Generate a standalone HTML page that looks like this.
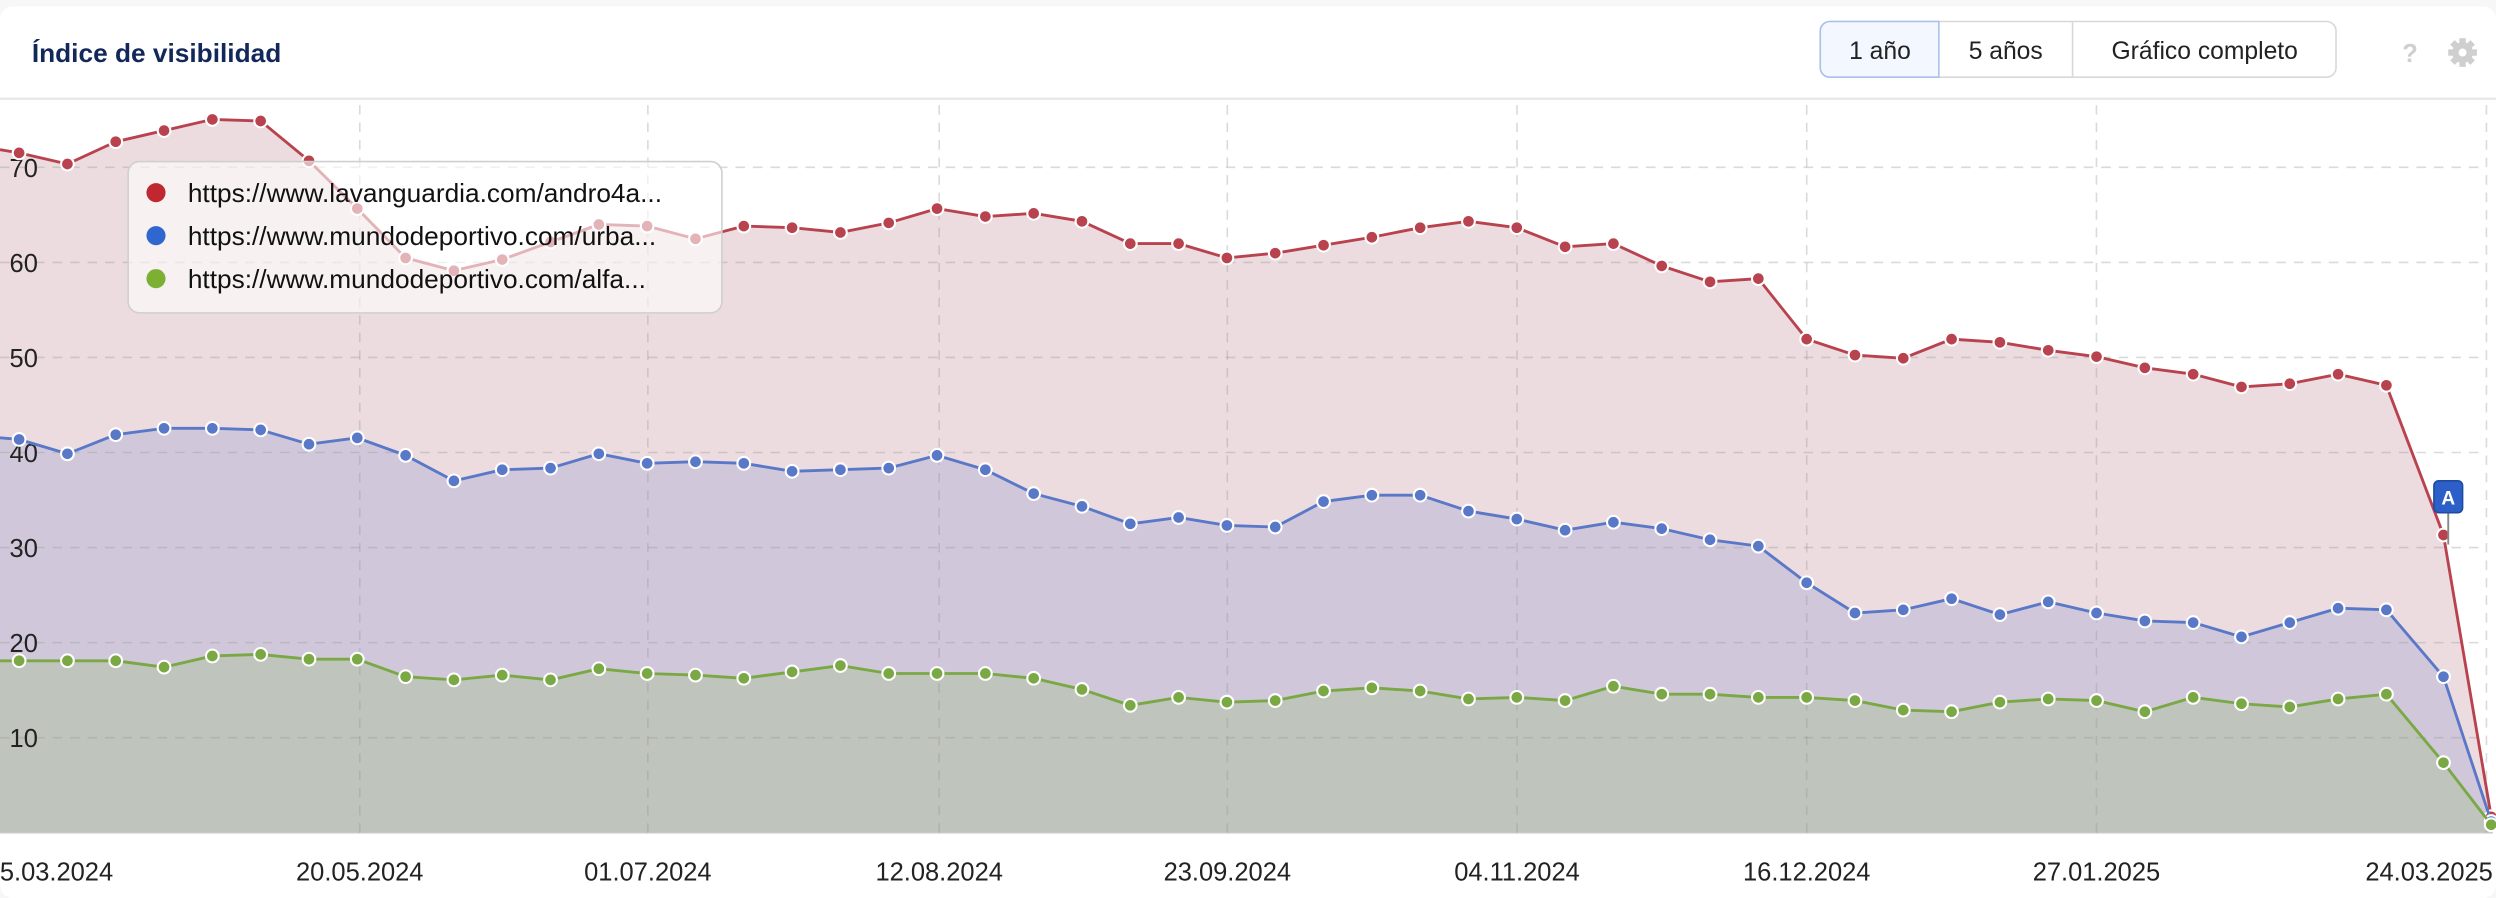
<!DOCTYPE html>
<html><head><meta charset="utf-8">
<style>
html,body{margin:0;padding:0;background:#f7f7f7;}
svg{display:block;}
text{font-family:"Liberation Sans",Arial,sans-serif;}
</style></head>
<body>
<svg id="s" width="2496" height="898" viewBox="0 0 1568 564" preserveAspectRatio="none" xmlns="http://www.w3.org/2000/svg">
<rect x="0" y="4" width="1568" height="560" rx="8" fill="#fff"/>
<text x="20" y="39" font-size="16.5" font-weight="bold" fill="#13285a">Índice de visibilidad</text>
<line x1="0" y1="62" x2="1568" y2="62" stroke="#e8e8e8" stroke-width="1.5"/>
<rect x="1143.5" y="13.5" width="324" height="35" rx="6" fill="#fff" stroke="#d8d8d8"/>
<path d="M1149.5,13.5 H1218 V48.5 H1149.5 A6,6 0 0 1 1143.5,42.5 V19.5 A6,6 0 0 1 1149.5,13.5Z" fill="#f3f7ff" stroke="#a9c0ec"/>
<line x1="1302" y1="14" x2="1302" y2="48" stroke="#d8d8d8"/>
<text x="1181" y="37" font-size="15.5" fill="#222" text-anchor="middle">1 año</text>
<text x="1260" y="37" font-size="15.5" fill="#222" text-anchor="middle">5 años</text>
<text x="1385" y="37" font-size="15.5" fill="#222" text-anchor="middle">Gráfico completo</text>
<text x="1514" y="39" font-size="16" font-weight="bold" fill="#cfcfcf" text-anchor="middle">?</text>
<g transform="translate(1547,33)" fill="#cfcfcf">
<circle r="6.5"/><rect x="-2" y="-9" width="4" height="18"/><rect x="-9" y="-2" width="18" height="4"/>
<rect x="-2" y="-9" width="4" height="18" transform="rotate(45)"/><rect x="-2" y="-9" width="4" height="18" transform="rotate(-45)"/>
<circle r="2.5" fill="#fff"/></g>
<g id="areas"></g>
<g id="grid"></g>
<g id="lines"></g>
<g id="legend">
<rect x="80.5" y="101.5" width="373" height="95" rx="7" fill="rgba(255,255,255,0.6)" stroke="#cfcfcf"/>
<circle cx="98" cy="121" r="6" fill="#c0282f"/>
<circle cx="98" cy="148" r="6" fill="#2f66d0"/>
<circle cx="98" cy="175" r="6" fill="#7cb032"/>
<text x="118" y="127" font-size="16.5" fill="#111">https://www.lavanguardia.com/andro4a...</text>
<text x="118" y="154" font-size="16.5" fill="#111">https://www.mundodeportivo.com/urba...</text>
<text x="118" y="181" font-size="16.5" fill="#111">https://www.mundodeportivo.com/alfa...</text>
</g>
<line x1="1538" y1="320" x2="1538" y2="342" stroke="#888" stroke-width="1.2"/>
<rect x="1529" y="302" width="18" height="20" rx="3" fill="#2c5fc8" stroke="#1f4aa3"/>
<text x="1538" y="317" font-size="12" font-weight="bold" fill="#fff" text-anchor="middle">A</text>
<g id="xl" font-size="16" fill="#222"></g>
</svg>
<script>
var NS="http://www.w3.org/2000/svg";
function el(p,t,a){var e=document.createElementNS(NS,t);for(var k in a)e.setAttribute(k,a[k]);document.getElementById(p).appendChild(e);return e;}
function Y(v){return 523-5.97*v;}
var R=[96,103,89,82,75,76,101,131,162,170,163,152,141,142,150,142,143,146,140,131,136,134,139,153,153,162,159,154,149,143,139,143,155,153,167,177,175,213,223,225,213,215,220,224,231,235,243,241,235,242,336,513];
var B=[276,285,273,269,269,270,279,275,286,302,295,294,285,291,290,291,296,295,294,286,295,310,318,329,325,330,331,315,311,311,321,326,333,328,332,339,343,366,385,383,376,386,378,385,390,391,400,391,382,383,425,516];
var G=[415,415,415,419,412,411,414,414,425,427,424,427,420,423,424,426,422,418,423,423,423,426,433,443,438,441,440,434,432,434,439,438,440,431,436,436,438,438,440,446,447,441,439,440,447,438,442,444,439,436,479,518];
var X=[];for(var k=0;k<50;k++)X.push(12+30.35*k);X.push(1535);X.push(1565);
function pts(A,y0){var s="M0,"+y0;for(var i=0;i<A.length;i++)s+=" L"+X[i]+","+A[i];return s;}
var ser=[[R,94,"#ecdcdf","#b8434f"],[B,275,"#d0c8da","#5a78c8"],[G,415,"#bfc4bc","#7aa844"]];
ser.forEach(function(s){el("areas","path",{d:pts(s[0],s[1])+" L1565,523 L0,523 Z",fill:s[2]});});
el("areas","line",{x1:0,x2:1566,y1:523,y2:523,stroke:"#c8c8c8"});
for(var v=10;v<=70;v+=10){el("grid","line",{x1:0,x2:1560,y1:Y(v),y2:Y(v),stroke:"rgba(150,150,150,0.35)","stroke-dasharray":"6,5"});
 var t=el("grid","text",{x:6,y:Y(v)+6,"font-size":"16",fill:"#222"});t.textContent=v;}
var vx=[226,407,590,771,953,1135,1317,1562];
vx.forEach(function(x){el("grid","line",{x1:x,x2:x,y1:66,y2:523,stroke:"rgba(150,150,150,0.35)","stroke-dasharray":"6,5"});});
var labs=[["20.05.2024",226],["01.07.2024",407],["12.08.2024",590],["23.09.2024",771],["04.11.2024",953],["16.12.2024",1135],["27.01.2025",1317]];
labs.forEach(function(l){var t=el("xl","text",{x:l[1],y:553,"text-anchor":"middle"});t.textContent=l[0];});
var t=el("xl","text",{x:-9,y:553});t.textContent="25.03.2024";
t=el("xl","text",{x:1566,y:553,"text-anchor":"end"});t.textContent="24.03.2025";
ser.forEach(function(s){el("lines","path",{d:pts(s[0],s[1]),fill:"none",stroke:s[3],"stroke-width":"1.8"});
 for(var i=0;i<s[0].length;i++)el("lines","circle",{cx:X[i],cy:s[0][i],r:4,fill:s[3],stroke:"#fff","stroke-width":"1.3"});});
</script>
</body></html>
